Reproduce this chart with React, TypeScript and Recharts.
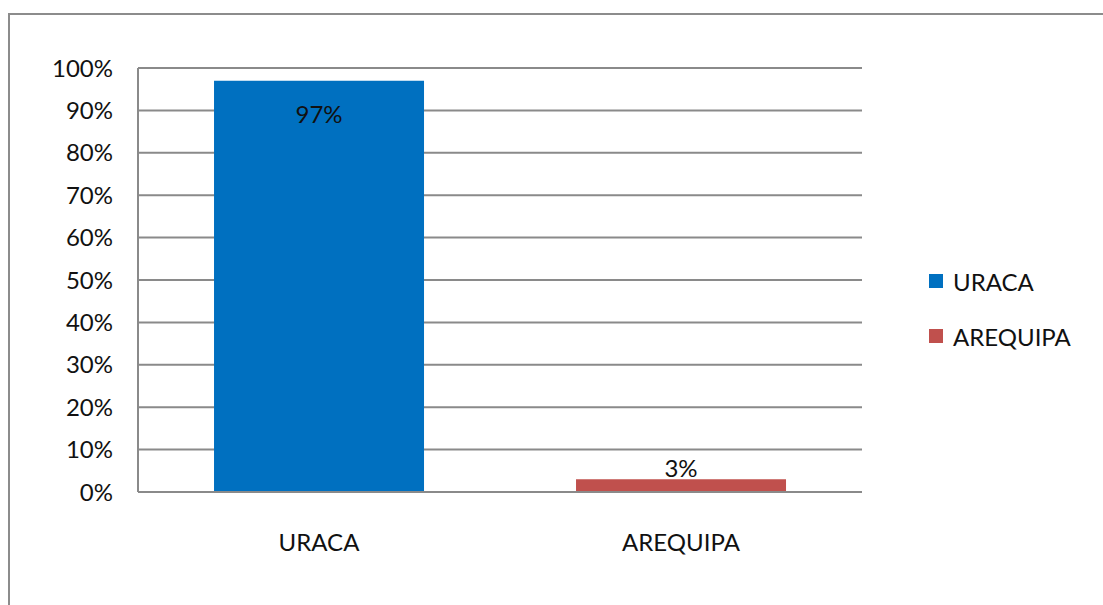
import { BarChart, Bar, XAxis, YAxis, CartesianGrid, LabelList, Cell } from 'recharts';

const categories = ['URACA', 'AREQUIPA'];
const shares = [97, 3];
const colors = ['#0070C0', '#C0504D'];
const yTicks = [0, 10, 20, 30, 40, 50, 60, 70, 80, 90, 100];

const data = categories.map((name, i) => ({ name, value: shares[i] }));

const FONT = 'Lato, "Open Sans", sans-serif';
const FS = 24;

const BarLabel = (props: any) => {
  const { x, y, width, value } = props;
  const cx = Number(x) + Number(width) / 2;
  // tall bars get the label inside the top, short ones above
  const ty = value > 50 ? Number(y) + 33 : Number(y) - 12;
  return (
    <text x={cx} y={ty} textAnchor="middle" dominantBaseline="central" fontSize={FS} fill="#111" fontFamily={FONT}>
      {value}%
    </text>
  );
};

const LegendBox = () => (
  <div style={{ position: 'absolute', left: 929, top: 266, fontFamily: FONT, fontSize: FS, color: '#111' }}>
    {categories.map((c, i) => (
      <div key={c} style={{ display: 'flex', alignItems: 'center', height: 30, marginBottom: 25 }}>
        <span style={{ width: 14, height: 14, background: colors[i], display: 'inline-block', marginRight: 10 }} />
        <span>{c}</span>
      </div>
    ))}
  </div>
);

export default function App() {
  return (
    <div style={{ position: 'absolute', left: 0, top: 0, width: 1103, height: 605, background: '#fff' }}>
      <div
        style={{
          position: 'absolute',
          left: 8,
          top: 13,
          width: 1100,
          height: 600,
          borderLeft: '2px solid #8c8c8c',
          borderTop: '2px solid #8c8c8c'
        }}
      />
      <div style={{ position: 'absolute', left: 0, top: 0 }}>
        <BarChart
          width={1103}
          height={605}
          data={data}
          margin={{ top: 68, right: 241, bottom: 0, left: 0 }}
          barCategoryGap="21%"
        >
          <CartesianGrid vertical={false} stroke="#8a8a8a" strokeWidth={2} />
          <XAxis
            dataKey="name"
            height={113}
            axisLine={{ stroke: '#8a8a8a', strokeWidth: 2 }}
            tickLine={false}
            tickSize={0}
            tickMargin={42}
            tick={{ fontSize: FS, fill: '#111', fontFamily: FONT }}
          />
          <YAxis
            width={138}
            domain={[0, 100]}
            ticks={yTicks}
            interval={0}
            tickFormatter={(v: number) => `${v}%`}
            axisLine={{ stroke: '#8a8a8a', strokeWidth: 2 }}
            tickLine={false}
            tickSize={0}
            tickMargin={25}
            tick={{ fontSize: FS, fill: '#111', fontFamily: FONT }}
          />
          <Bar dataKey="value" isAnimationActive={false}>
            {data.map((d, i) => (
              <Cell key={d.name} fill={colors[i]} />
            ))}
            <LabelList dataKey="value" content={<BarLabel />} />
          </Bar>
        </BarChart>
      </div>
      <LegendBox />
    </div>
  );
}
